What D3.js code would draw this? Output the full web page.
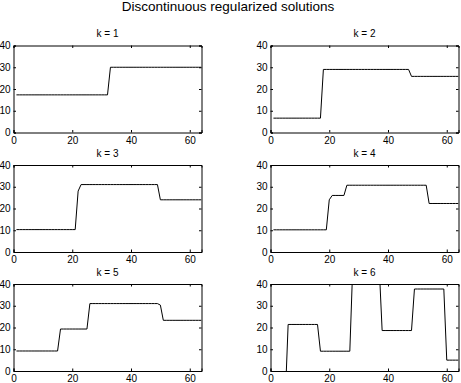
<!DOCTYPE html>
<html>
<head>
<meta charset="utf-8">
<script src="https://cdn.jsdelivr.net/npm/d3@7"></script>
<style>
  body { margin: 0; background: #fff; }
  svg { display: block; font-family: "Liberation Sans", Arial, sans-serif; }
</style>
</head>
<body>
<svg></svg>
<script>
const width = 461
const height = 383

// sample index 1..64
const xs = d3.range(1, 65)
const titles = ["k = 1", "k = 2", "k = 3", "k = 4", "k = 5", "k = 6"]
const xTicks = [0, 20, 40, 60]
const yTicks = [0, 10, 20, 30, 40]

const solK1 = [
  17.3,17.3,17.3,17.3,17.3,17.3,17.3,17.3,17.3,17.3,17.3,17.3,17.3,17.3,17.3,17.3,
  17.3,17.3,17.3,17.3,17.3,17.3,17.3,17.3,17.3,17.3,17.3,17.3,17.3,17.3,17.3,17.3,
  30,30,30,30,30,30,30,30,30,30,30,30,30,30,30,30,
  30,30,30,30,30,30,30,30,30,30,30,30,30,30,30,30
]
const solK2 = [
  6.6,6.6,6.6,6.6,6.6,6.6,6.6,6.6,6.6,6.6,6.6,6.6,6.6,6.6,6.6,6.6,
  6.6,29,29,29,29,29,29,29,29,29,29,29,29,29,29,29,
  29,29,29,29,29,29,29,29,29,29,29,29,29,29,29,25.8,
  25.8,25.8,25.8,25.8,25.8,25.8,25.8,25.8,25.8,25.8,25.8,25.8,25.8,25.8,25.8,25.8
]
const solK3 = [
  10.3,10.3,10.3,10.3,10.3,10.3,10.3,10.3,10.3,10.3,10.3,10.3,10.3,10.3,10.3,10.3,
  10.3,10.3,10.3,10.3,10.3,28,31,31,31,31,31,31,31,31,31,31,
  31,31,31,31,31,31,31,31,31,31,31,31,31,31,31,31,
  31,24,24,24,24,24,24,24,24,24,24,24,24,24,24,24
]
const solK4 = [
  10.2,10.2,10.2,10.2,10.2,10.2,10.2,10.2,10.2,10.2,10.2,10.2,10.2,10.2,10.2,10.2,
  10.2,10.2,10.2,24,26,26,26,26,26,30.7,30.7,30.7,30.7,30.7,30.7,30.7,
  30.7,30.7,30.7,30.7,30.7,30.7,30.7,30.7,30.7,30.7,30.7,30.7,30.7,30.7,30.7,30.7,
  30.7,30.7,30.7,30.7,30.7,22.3,22.3,22.3,22.3,22.3,22.3,22.3,22.3,22.3,22.3,22.3
]
const solK5 = [
  9.2,9.2,9.2,9.2,9.2,9.2,9.2,9.2,9.2,9.2,9.2,9.2,9.2,9.2,9.2,19.3,
  19.3,19.3,19.3,19.3,19.3,19.3,19.3,19.3,19.3,31,31,31,31,31,31,31,
  31,31,31,31,31,31,31,31,31,31,31,31,31,31,31,31,
  31,30.3,23.3,23.3,23.3,23.3,23.3,23.3,23.3,23.3,23.3,23.3,23.3,23.3,23.3,23.3
]
const solK6 = [
  -14,-14,-14,-14,-14,21.4,21.4,21.4,21.4,21.4,21.4,21.4,21.4,21.4,21.4,21.4,
  9.1,9.1,9.1,9.1,9.1,9.1,9.1,9.1,9.1,9.1,9.1,48,48,48,48,48,
  48,48,48,48,48,18.6,18.6,18.6,18.6,18.6,18.6,18.6,18.6,18.6,18.6,18.6,
  37.7,37.7,37.7,37.7,37.7,37.7,37.7,37.7,37.7,37.7,37.7,5,5,5,5,5
]
const solutions = [solK1, solK2, solK3, solK4, solK5, solK6]

const svg = d3.select("svg")
  .attr("width", width)
  .attr("height", height)

svg.append("text")
  .attr("x", 228)
  .attr("y", 11)
  .attr("text-anchor", "middle")
  .style("font-size", "13.5px")
  .text("Discontinuous regularized solutions")

const colLeft = [13.5, 270.5]
const rowTop = [45.5, 165, 284]
const pw = 188
const ph = 87

const x = d3.scaleLinear().domain([0, 64]).range([0, pw])
const y = d3.scaleLinear().domain([0, 40]).range([ph, 0])

const line = d3.line()
  .x(function (d, i) { return x(xs[i]) })
  .y(function (d) { return y(d) })

solutions.forEach(function (sol, k) {
  const left = colLeft[k % 2]
  const top = rowTop[Math.floor(k / 2)]
  const g = svg.append("g").attr("transform", "translate(" + left + "," + top + ")")

  g.append("clipPath").attr("id", "clip" + k)
    .append("rect").attr("width", pw).attr("height", ph)

  g.append("path")
    .datum(sol)
    .attr("clip-path", "url(#clip" + k + ")")
    .attr("fill", "none")
    .attr("stroke", "#000")
    .attr("stroke-width", 1)
    .attr("d", line)

  // inward ticks on all four sides, MATLAB style
  g.append("g").attr("transform", "translate(0," + ph + ")")
    .call(d3.axisBottom(x).tickValues(xTicks).tickSize(-2.5).tickPadding(4))
  g.append("g")
    .call(d3.axisLeft(y).tickValues(yTicks).tickSize(-2.5).tickPadding(3))
  g.append("g")
    .call(d3.axisTop(x).tickValues(xTicks).tickSize(-2.5).tickFormat(""))
  g.append("g").attr("transform", "translate(" + pw + ",0)")
    .call(d3.axisRight(y).tickValues(yTicks).tickSize(-2.5).tickFormat(""))

  g.selectAll(".domain").attr("stroke", "#000")
  g.selectAll(".tick line").attr("stroke", "#000")
  g.selectAll(".tick text")
    .attr("fill", "#000")
    .style("font-family", "'Liberation Sans', Arial, sans-serif")
    .style("font-size", "10px")

  g.append("text")
    .attr("x", pw / 2)
    .attr("y", -8.5)
    .attr("text-anchor", "middle")
    .style("font-size", "10px")
    .text(titles[k])
})
</script>
</body>
</html>
